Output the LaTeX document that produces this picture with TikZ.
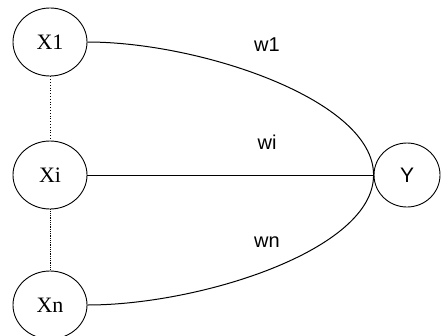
\documentclass[tikz,border=0pt]{standalone}
\usepackage{fontspec}
\usetikzlibrary{shapes.geometric}
\setmainfont{Liberation Serif}
\newfontfamily\wfont{Liberation Sans}
\begin{document}
\begin{tikzpicture}[x=1pt,y=-1pt,
  xnode/.style={draw,line width=0.9pt,ellipse,minimum width=74pt,minimum height=68pt,inner sep=0pt,font=\fontsize{22}{24}\selectfont},
  ynode/.style={draw,line width=0.9pt,ellipse,minimum width=66pt,minimum height=64pt,inner sep=0pt,font=\wfont\fontsize{21}{23}\selectfont},
  wlab/.style={font=\wfont\fontsize{20}{22}\selectfont},
  link/.style={line width=1pt}]
\useasboundingbox (0,0) rectangle (441,335);
\node[xnode] (x1) at (50,42) {X1};
\node[xnode] (xi) at (50,175) {Xi};
\node[xnode] (xn) at (50,305) {Xn};
\node[ynode] (y) at (407,175) {Y};
\draw[line width=0.8pt,dotted] (x1) -- (xi);
\draw[line width=0.8pt,densely dotted] (xi) -- (xn);
\draw[link] (x1.east) .. controls (200,42) and (374,100) .. (y.west);
\draw[link] (xi.east) -- (y.west);
\draw[link] (xn.east) .. controls (200,305) and (374,250) .. (y.west);
\node[wlab] (w1) at (267,45) {w1};
\node[wlab] (wi) at (267,142) {wi};
\node[wlab] (wn) at (267,242) {wn};
\end{tikzpicture}
\end{document}
